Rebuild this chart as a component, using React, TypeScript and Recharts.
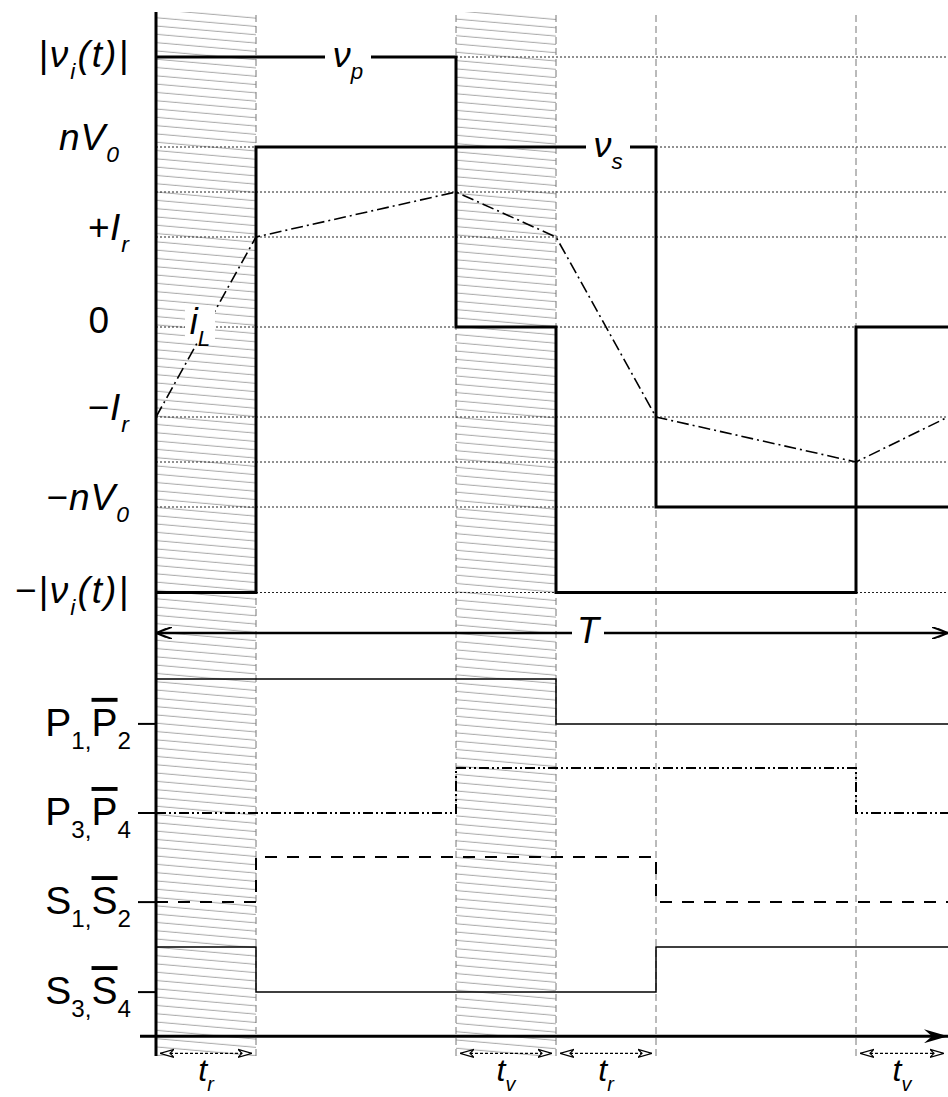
import React from 'react'
import {
  ComposedChart, Line, XAxis, YAxis, ReferenceLine, ReferenceArea, ReferenceDot,
} from 'recharts'

// time axis: one unit = one switching slot (t_r = t_v = 1)
const T_END = 7.92
const switchTimes = [1, 3, 4, 5, 7]
const hatchSpans = [[0, 1], [3, 4]]

// voltage / current levels (|v_i| = 3, nV0 = 2, I_r = 1)
const levelTicks = [3, 2, 1, 0, -1, -2, -2.95]
const guideLevels = [3, 2, 1.5, 1, 0, -1, -1.5, -2, -2.95]

const vpTimes = [0, 3, 4, 7, T_END]
const vpValues = [3, 0, -2.95, 0, 0]
const vsTimes = [0, 1, 5, T_END]
const vsValues = [-2.95, 2, -2, -2]
const iLTimes = [0, 1, 3, 4, 5, 7, T_END]
const iLValues = [-1, 1, 1.5, 1, -1, -1.5, -1]

// gate signals: baseline of each row, and bit pattern at each edge
const gateBases = [-4.41, -5.4, -6.39, -7.39]
const GATE_HIGH = 0.5
const p12Times = [0, 4, T_END]
const p12Bits = [1, 0, 0]
const p34Times = [0, 3, 7, T_END]
const p34Bits = [0, 1, 0, 0]
const s12Times = [0, 1, 5, T_END]
const s12Bits = [0, 1, 0, 0]
const s34Times = [0, 1, 5, T_END]
const s34Bits = [1, 0, 1, 1]

const T_ARROW_Y = -3.4
const BASE_AXIS_Y = -7.88
const SPAN_ARROW_Y = -8.07
const SPAN_LABEL_Y = -8.31
const intervals: [number, number, string][] = [
  [0, 1, 'r'], [3, 4, 'v'], [4, 5, 'r'], [7, T_END, 'v'],
]

type Seg = { t: string; sub?: boolean; over?: boolean }

const levelLabels: Seg[][] = [
  [{ t: '|ν' }, { t: 'i', sub: true }, { t: '(t)|' }],
  [{ t: 'nV' }, { t: '0', sub: true }],
  [{ t: '+I' }, { t: 'r', sub: true }],
  [{ t: '0' }],
  [{ t: '−I' }, { t: 'r', sub: true }],
  [{ t: '−nV' }, { t: '0', sub: true }],
  [{ t: '−|ν' }, { t: 'i', sub: true }, { t: '(t)|' }],
]
const gateLabels: Seg[][] = [
  [{ t: 'P' }, { t: '1,', sub: true }, { t: 'P', over: true }, { t: '2', sub: true }],
  [{ t: 'P' }, { t: '3,', sub: true }, { t: 'P', over: true }, { t: '4', sub: true }],
  [{ t: 'S' }, { t: '1,', sub: true }, { t: 'S', over: true }, { t: '2', sub: true }],
  [{ t: 'S' }, { t: '3,', sub: true }, { t: 'S', over: true }, { t: '4', sub: true }],
]

const FONT = '"Liberation Sans", Arial, sans-serif'

const toPoints = (xs: number[], ys: number[]) => xs.map((x, i) => ({ x, y: ys[i] }))
const toGate = (xs: number[], bits: number[], base: number) =>
  xs.map((x, i) => ({ x, y: base + bits[i] * GATE_HIGH }))

function RichText({ x, y, segs, size, italic = true, anchor = 'end', spacing = 0 }: {
  x: number; y: number; segs: Seg[]; size: number; italic?: boolean; anchor?: string; spacing?: number
}) {
  const shift = size * 0.33
  let cur = 0
  return (
    <text x={x} y={y} textAnchor={anchor} fontFamily={FONT} fontSize={size} letterSpacing={spacing}
      fontStyle={italic ? 'italic' : 'normal'} fill="#000">
      {segs.map((s, i) => {
        const target = s.sub ? shift : 0
        const dy = target - cur
        cur = target
        return (
          <tspan key={i} dy={dy} fontSize={s.sub ? size * 0.62 : size}
            style={s.over ? { textDecoration: 'overline' } : undefined}>
            {s.t}
          </tspan>
        )
      })}
    </text>
  )
}

function AxisTick(props: any) {
  const { y, payload } = props
  const li = levelTicks.indexOf(payload.value)
  if (li >= 0) {
    const right = li === 3 ? 110 : li === 1 ? 120 : 130
    const dy = li === 0 || li === 6 ? 10 : li === 3 ? 6 : 3
    return <RichText x={right} y={y + dy} segs={levelLabels[li]} size={37} italic={li !== 3} spacing={li === 0 || li === 6 ? 2 : 1} />
  }
  const gi = gateBases.indexOf(payload.value)
  if (gi < 0) return null
  return (
    <g>
      <line x1={138} x2={156} y1={y} y2={y} stroke="#000" strokeWidth={2} />
      <RichText x={131} y={y + 12} segs={gateLabels[gi]} size={39} italic={false} />
    </g>
  )
}

function Tag({ segs, w, size = 36, dx = 0 }: { segs: Seg[]; w: number; size?: number; dx?: number }) {
  return (props: any) => (
    <g>
      <rect x={props.cx - w / 2 + dx} y={props.cy - 18} width={w} height={36} fill="#fff" />
      <RichText x={props.cx + dx} y={props.cy + 10} segs={segs} size={size} anchor="middle" />
    </g>
  )
}

function arrowShape(marker: string, width: number, dash?: string) {
  return (p: any) => (
    <line x1={p.x1} y1={p.y1} x2={p.x2} y2={p.y2} stroke="#000" strokeWidth={width}
      strokeDasharray={dash} markerStart={marker === 'both' ? 'url(#headS)' : undefined}
      markerEnd={marker === 'axis' ? 'url(#headAxis)' : 'url(#headE)'} />
  )
}

function spanShape(p: any) {
  return (
    <line x1={p.x1} y1={p.y1} x2={p.x2} y2={p.y2} stroke="#000" strokeWidth={1.2}
      strokeDasharray="3 2" markerStart="url(#tri)" markerEnd="url(#tri)" />
  )
}

export default function App() {
  const vp = toPoints(vpTimes, vpValues)
  const vs = toPoints(vsTimes, vsValues)
  const iL = toPoints(iLTimes, iLValues)
  const p12 = toGate(p12Times, p12Bits, gateBases[0])
  const p34 = toGate(p34Times, p34Bits, gateBases[1])
  const s12 = toGate(s12Times, s12Bits, gateBases[2])
  const s34 = toGate(s34Times, s34Bits, gateBases[3])

  return (
    <div style={{ position: 'absolute', left: 0, top: 0, width: 948, height: 1097, background: '#fff' }}>
      <ComposedChart width={948} height={1097} margin={{ top: 12, right: 0, bottom: 41, left: 0 }}>
        <defs>
          <pattern id="hatch" patternUnits="userSpaceOnUse" width={100} height={8.3}
            patternTransform="skewY(5)">
            <line x1={0} y1={4} x2={100} y2={4} stroke="#8a8a8a" strokeWidth={0.8} />
          </pattern>
          <marker id="headE" viewBox="0 0 16 12" refX={16} refY={6} markerWidth={16} markerHeight={12}
            markerUnits="userSpaceOnUse" orient="auto">
            <path d="M0,0 L16,6 L0,12 M6,2 L16,6 L6,10" fill="none" stroke="#000" strokeWidth={2} />
          </marker>
          <marker id="headS" viewBox="0 0 16 12" refX={16} refY={6} markerWidth={16} markerHeight={12}
            markerUnits="userSpaceOnUse" orient="auto-start-reverse">
            <path d="M0,0 L16,6 L0,12 M6,2 L16,6 L6,10" fill="none" stroke="#000" strokeWidth={2} />
          </marker>
          <marker id="headAxis" viewBox="0 0 24 14" refX={24} refY={7} markerWidth={24} markerHeight={14}
            markerUnits="userSpaceOnUse" orient="auto">
            <path d="M0,0 L24,7 L0,14 L8,7 z" fill="#000" />
          </marker>
          <marker id="tri" viewBox="0 0 14 10" refX={14} refY={5} markerWidth={14} markerHeight={10}
            markerUnits="userSpaceOnUse" orient="auto-start-reverse">
            <path d="M0,1 L14,5 L0,9 L4,5 z" fill="#fff" stroke="#000" strokeWidth={1.2} />
          </marker>
        </defs>

        <XAxis type="number" dataKey="x" domain={[0, T_END]} hide allowDataOverflow />
        <YAxis type="number" dataKey="y" domain={[-8.1, 3.5]} width={156} ticks={[...levelTicks, ...gateBases]}
          interval={0} tickLine={false} axisLine={{ stroke: '#000', strokeWidth: 3 }}
          tick={<AxisTick />} allowDataOverflow />

        {hatchSpans.map(([a, b]) => (
          <ReferenceArea key={a} x1={a} x2={b} fill="url(#hatch)" fillOpacity={1} stroke="none" />
        ))}
        {switchTimes.map((t) => (
          <ReferenceLine key={t} x={t} stroke="#777" strokeWidth={1} strokeDasharray="7 4" />
        ))}
        {guideLevels.map((v) => (
          <ReferenceLine key={v} y={v} stroke="#222" strokeWidth={1} strokeDasharray="2 2" />
        ))}

        <Line data={p12} dataKey="y" type="stepAfter" stroke="#000" strokeWidth={1.5} dot={false} isAnimationActive={false} />
        <Line data={p34} dataKey="y" type="stepAfter" stroke="#000" strokeWidth={2} strokeDasharray="10 3 2 3 2 3" dot={false} isAnimationActive={false} />
        <Line data={s12} dataKey="y" type="stepAfter" stroke="#000" strokeWidth={2} strokeDasharray="12 10" dot={false} isAnimationActive={false} />
        <Line data={s34} dataKey="y" type="stepAfter" stroke="#000" strokeWidth={1.5} dot={false} isAnimationActive={false} />

        <Line data={iL} dataKey="y" type="linear" stroke="#000" strokeWidth={1.6} strokeDasharray="12 4 2 4" dot={false} isAnimationActive={false} />
        <Line data={vs} dataKey="y" type="stepAfter" stroke="#000" strokeWidth={3} dot={false} isAnimationActive={false} />
        <Line data={vp} dataKey="y" type="stepAfter" stroke="#000" strokeWidth={3} dot={false} isAnimationActive={false} />

        <ReferenceLine segment={[{ x: 0, y: T_ARROW_Y }, { x: T_END, y: T_ARROW_Y }]} ifOverflow="visible"
          shape={arrowShape('both', 2.5)} />
        <ReferenceLine segment={[{ x: -0.16, y: BASE_AXIS_Y }, { x: T_END, y: BASE_AXIS_Y }]} ifOverflow="visible"
          shape={arrowShape('axis', 3)} />
        {intervals.map(([a, b]) => (
          <ReferenceLine key={a} segment={[{ x: a + 0.04, y: SPAN_ARROW_Y }, { x: b - 0.04, y: SPAN_ARROW_Y }]}
            ifOverflow="visible" shape={spanShape} />
        ))}

        <ReferenceDot x={1.92} y={3} r={0} ifOverflow="visible" shape={Tag({ segs: [{ t: 'ν' }, { t: 'p', sub: true }], w: 46 })} />
        <ReferenceDot x={4.52} y={2} r={0} ifOverflow="visible" shape={Tag({ segs: [{ t: 'ν' }, { t: 's', sub: true }], w: 44 })} />
        <ReferenceDot x={4.32} y={T_ARROW_Y} r={0} ifOverflow="visible" shape={Tag({ segs: [{ t: 'T' }], w: 32 })} />
        <ReferenceDot x={0.44} y={0.03} r={0} ifOverflow="visible" shape={Tag({ segs: [{ t: 'i' }, { t: 'L', sub: true }], w: 30 })} />
        {intervals.map(([a, b, k]) => (
          <ReferenceDot key={a} x={(a + b) / 2} y={SPAN_LABEL_Y} r={0} ifOverflow="visible"
            shape={(p: any) => <RichText x={p.cx} y={p.cy + 6} segs={[{ t: 't' }, { t: k, sub: true }]} size={32} anchor="middle" />} />
        ))}
      </ComposedChart>
    </div>
  )
}
